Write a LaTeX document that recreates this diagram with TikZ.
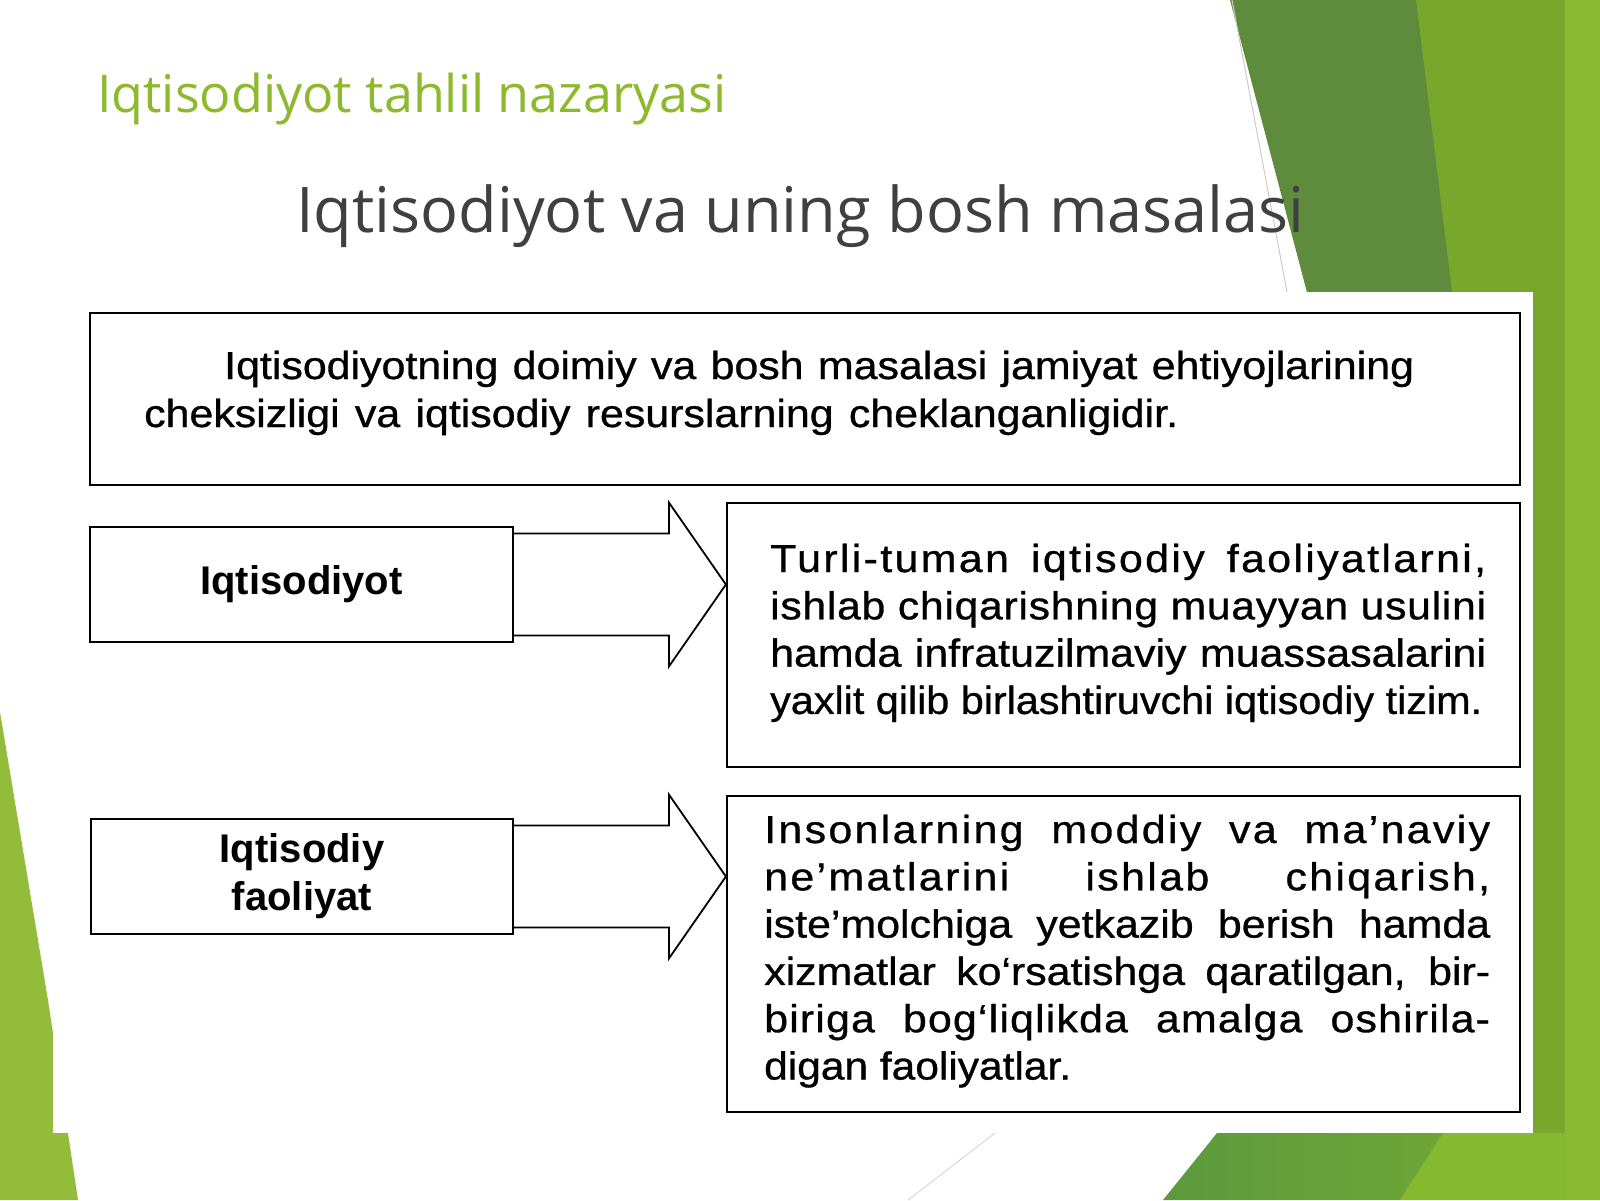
\documentclass[tikz,border=0pt]{standalone}
\usepackage{fontspec}
\usepackage{graphicx}
\setmainfont{Liberation Sans}
\newfontfamily\titlefont{Open Sans}
\newfontfamily\boxfont[FakeStretch=1.1,FakeBold=0.8]{Liberation Sans}
\usetikzlibrary{calc}
\definecolor{tgreen}{RGB}{141,185,45}
\definecolor{tgray}{RGB}{64,64,64}
\definecolor{gdark}{RGB}{94,140,60}
\definecolor{gmid}{RGB}{120,168,43}
\definecolor{glight}{RGB}{137,186,49}
\definecolor{gleft}{RGB}{147,188,58}
\definecolor{gbotdark}{RGB}{92,154,61}
\definecolor{gbotmid}{RGB}{110,165,54}
\definecolor{gbotlight}{RGB}{132,185,48}
\newsavebox\jlbox
\newcommand\jl[3][0]{\sbox\jlbox{\addfontfeature{LetterSpace=#1}#3}%
  \ifdim\wd\jlbox>#2pt\relax
    \pgfmathsetmacro\jlratio{#2/\the\wd\jlbox}\scalebox{\jlratio}[1]{\usebox\jlbox}%
  \else\makebox[#2pt][s]{\addfontfeature{LetterSpace=#1}#3}\fi}
\newcommand\blockarrow[2]{%
  \draw[blockarr] ($(#1.east)+(0,-51)$) -- ($(#2.west |- #1.east)+(-57,-51)$) -- ++(0,-31)
    -- (#2.west |- #1.east) -- ($(#2.west |- #1.east)+(-57,82)$) -- ++(0,-31)
    -- ($(#1.east)+(0,51)$);}
\begin{document}
\begin{tikzpicture}[x=1pt,y=-1pt,
  box/.style={draw=black, line width=2.2pt, fill=white, inner sep=0pt},
  txt/.style={inner sep=0pt, anchor=base west, text=black},
  blockarr/.style={draw=black, line width=1.8pt, fill=white, line join=miter}]
\useasboundingbox (0,0) rectangle (1600,1200);
\fill[white] (0,0) rectangle (1600,1200);
% background decoration
\fill[gmid] (1400,0) rectangle (1600,1200);
\fill[gdark] (1230,0) -- (1416,0) -- (1453,300) -- (1309,300) -- cycle;
\shade[left color=gbotdark, right color=gbotmid] (1217,1133) -- (1443,1133) -- (1400,1200) -- (1163,1200) -- cycle;
\fill[gbotlight] (1443,1133) -- (1600,1133) -- (1600,1200) -- (1400,1200) -- cycle;
\fill[glight] (1565,0) rectangle (1600,1200);
\fill[gleft] (0,712) -- (48,1000) -- (78,1200) -- (0,1200) -- cycle;
\draw[black!20, line width=1pt] (1232,0) -- (1287,292);
\draw[black!15, line width=1pt] (995,1133) -- (908,1200);
\fill[white] (53,292) rectangle (1533,1133);
% titles
\node[anchor=base west, inner sep=0pt, text=tgreen, font=\titlefont\fontsize{52}{60}\selectfont] (sub) at (97,112) {Iqtisodiyot tahlil nazaryasi};
\node[anchor=base west, inner sep=0pt, text=tgray, font=\titlefont\fontsize{63}{72}\selectfont] (title) at (296,232) {Iqtisodiyot va uning bosh masalasi};
% boxes
\node[box, minimum width=1430pt, minimum height=172pt] (top) at (805,399) {};
\node[box, minimum width=423pt, minimum height=115pt, font=\bfseries\fontsize{40}{48}\selectfont] (eco) at (301.5,584.5) {Iqtisodiyot};
\node[box, minimum width=793pt, minimum height=264pt] (ecodef) at (1123.5,635) {};
\node[box, minimum width=422pt, minimum height=115pt, align=center, font=\bfseries\fontsize{40}{48}\selectfont] (act) at (302,876.5) {Iqtisodiy\\faoliyat};
\node[box, minimum width=793pt, minimum height=316pt] (actdef) at (1123.5,954) {};
% texts
\node[txt] (toptext) at (144,379) {\parbox[t]{1270pt}{\boxfont\fontsize{39}{48}\selectfont
 \hspace*{80pt}\jl{1190}{Iqtisodiyotning doimiy va bosh masalasi jamiyat ehtiyojlarining}\\
 \jl{1034}{cheksizligi va iqtisodiy resurslarning cheklanganligidir.}}};
\node[txt] (ecotext) at (770,572) {\parbox[t]{716pt}{\boxfont\fontsize{39}{47.3}\selectfont
 \jl[6]{716}{Turli-tuman iqtisodiy faoliyatlarni,}\\
 \jl[2]{716}{ishlab chiqarishning muayyan usulini}\\
 \jl{716}{hamda infratuzilmaviy muassasalarini}\\
 \jl{712}{yaxlit qilib birlashtiruvchi iqtisodiy tizim.}}};
\node[txt] (acttext) at (764,843) {\parbox[t]{726pt}{\boxfont\fontsize{39}{47.3}\selectfont
 \jl[6]{726}{Insonlarning moddiy va ma’naviy}\\
 \jl[6]{726}{ne’matlarini ishlab chiqarish,}\\
 \jl{726}{iste’molchiga yetkazib berish hamda}\\
 \jl{726}{xizmatlar ko‘rsatishga qaratilgan, bir-}\\
 \jl[3]{726}{biriga bog‘liqlikda amalga oshirila-}\\
 \jl{307}{digan faoliyatlar.}}};
% arrows
\blockarrow{eco}{ecodef}
\blockarrow{act}{actdef}
\end{tikzpicture}
\end{document}
